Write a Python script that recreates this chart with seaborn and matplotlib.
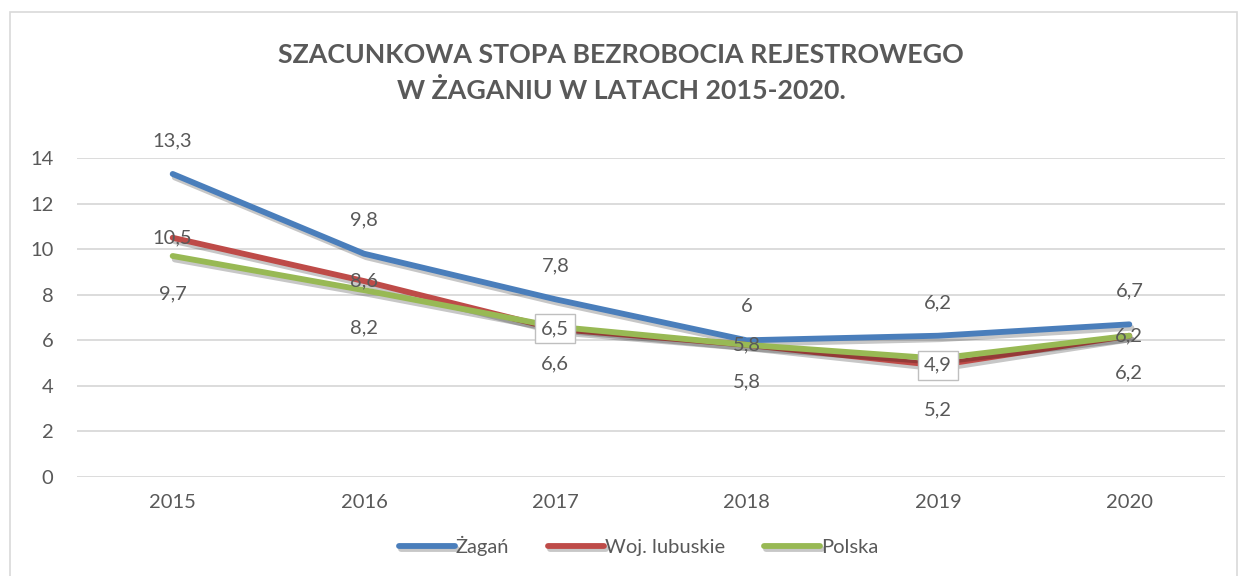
import matplotlib
matplotlib.use("Agg")
import matplotlib.pyplot as plt
import matplotlib.patheffects as pe
import seaborn as sns
import pandas as pd

years = ["2015", "2016", "2017", "2018", "2019", "2020"]
zagan = [13.3, 9.8, 7.8, 6.0, 6.2, 6.7]
lubuskie = [10.5, 8.6, 6.5, 5.8, 4.9, 6.2]
polska = [9.7, 8.2, 6.6, 5.8, 5.2, 6.2]
series_names = ["Żagań", "Woj. lubuskie", "Polska"]
title = "SZACUNKOWA STOPA BEZROBOCIA REJESTROWEGO\nW ŻAGANIU W LATACH 2015-2020."

sns.set_theme(style="white")
plt.rcParams["font.family"] = ["Lato", "DejaVu Sans"]

colors = ["#4a7ebb", "#be4b48", "#98b954"]
text_color = "#595959"
fs = 14.5
lw = 4.2

rows = []
for name, vals in zip(series_names, [zagan, lubuskie, polska]):
    for i, (y, v) in enumerate(zip(years, vals)):
        rows.append({"Rok": y, "idx": i, "Wartość": v, "Seria": name})
df = pd.DataFrame(rows)

fig = plt.figure(figsize=(12.42, 5.76), dpi=100)
ax = fig.add_axes([77/1242, 1 - 477/576, (1225-77)/1242, (477-158)/576])

sns.lineplot(data=df, x="idx", y="Wartość", hue="Seria", palette=colors,
             hue_order=series_names, linewidth=lw, ax=ax, legend=True,
             sort=False)
for line in ax.get_lines():
    line.set_solid_capstyle("round")
    line.set_path_effects([pe.SimpleLineShadow(offset=(1.5, -2.5), shadow_color="black", alpha=0.22),
                           pe.Normal()])

ax.set_xlim(-0.5, 5.5)
ax.set_ylim(0, 14)
ax.set_yticks(range(0, 15, 2))
ax.set_xticks(range(len(years)))
ax.set_xticklabels(years)
ax.grid(axis="y", color="#d9d9d9", linewidth=1.3)
ax.grid(axis="x", visible=False)
for s in ax.spines.values():
    s.set_visible(False)
ax.tick_params(axis="both", length=0, labelsize=fs, labelcolor=text_color)
ax.tick_params(axis="y", pad=17)
ax.tick_params(axis="x", pad=12)
ax.set_xlabel("")
ax.set_ylabel("")

def fmt(v):
    s = ("%.1f" % v).replace(".", ",")
    return s[:-2] if s.endswith(",0") else s

# labels: Żagań above, lubuskie centered, Polska below
boxed = {2, 4}
polska_offsets = [-27, -27, -27, -27, -37, -27]
for i, v in enumerate(zagan):
    ax.annotate(fmt(v), (i, v), xytext=(0, 24), textcoords="offset points",
                ha="center", va="center", fontsize=fs, color=text_color)
for i, v in enumerate(lubuskie):
    kw = {}
    if i in boxed:
        kw["bbox"] = dict(boxstyle="square,pad=0.3", fc="white", ec="#bfbfbf", lw=1)
    ax.annotate(fmt(v), (i, v), xytext=(0, 0), textcoords="offset points",
                ha="center", va="center", fontsize=fs, color=text_color, **kw)
for i, v in enumerate(polska):
    ax.annotate(fmt(v), (i, v), xytext=(0, polska_offsets[i]), textcoords="offset points",
                ha="center", va="center", fontsize=fs, color=text_color)

leg = ax.legend(loc="center", bbox_to_anchor=(0.489, -0.215), ncol=3, frameon=False,
                handlelength=2.8, handletextpad=0.05, columnspacing=1.9,
                fontsize=fs)
for t in leg.get_texts():
    t.set_color(text_color)
for h in leg.legend_handles:
    h.set_linewidth(lw)
    h.set_solid_capstyle("round")

fig.text(0.5, 1 - 73/576, title, ha="center", va="center", fontsize=19.3,
         fontweight="bold", color=text_color, linespacing=1.55)

# chart border
border = plt.Rectangle((10/1242, -0.01), (1237-10)/1242, 1 - 12/576 + 0.01,
                       transform=fig.transFigure, fill=False, ec="#d9d9d9", lw=1.2)
fig.patches.append(border)

fig.savefig("out.png", dpi=100)
